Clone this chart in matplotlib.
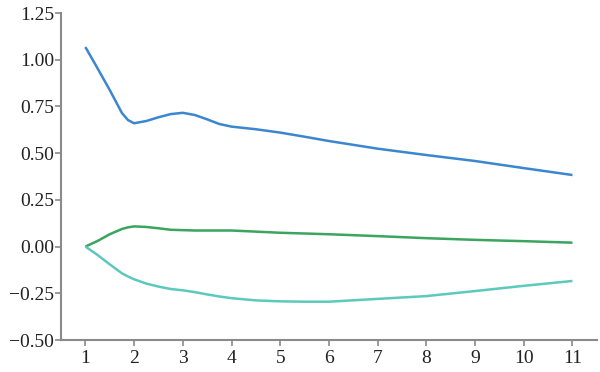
import matplotlib
matplotlib.use('Agg')
import matplotlib.pyplot as plt

plt.rcParams['font.family'] = ['Liberation Serif', 'DejaVu Serif']

# values (finer x steps where the curves bend)
x = [1, 1.25, 1.5, 1.75, 1.875, 2, 2.25, 2.5, 2.75, 3, 3.25, 3.5, 3.75, 4, 4.5, 5, 5.5,
     6, 7, 8, 9, 10, 11]
blue = [1.068, 0.954, 0.838, 0.715, 0.677, 0.660, 0.672, 0.692, 0.709, 0.716, 0.704, 0.681,
        0.656, 0.642, 0.628, 0.610, 0.588, 0.565, 0.524, 0.490, 0.458, 0.420, 0.383]
green = [0.000, 0.030, 0.066, 0.094, 0.103, 0.108, 0.105, 0.098, 0.090, 0.088, 0.086, 0.086,
         0.086, 0.086, 0.080, 0.074, 0.070, 0.066, 0.056, 0.045, 0.036, 0.029, 0.021]
cyan = [0.000, -0.045, -0.095, -0.143, -0.160, -0.175, -0.198, -0.214, -0.227, -0.234,
        -0.244, -0.256, -0.267, -0.276, -0.288, -0.293, -0.295, -0.295, -0.280, -0.265,
        -0.238, -0.210, -0.184]

xticks = list(range(1, 12))
yticks = [-0.50, -0.25, 0.00, 0.25, 0.50, 0.75, 1.00, 1.25]

fig = plt.figure(figsize=(6, 3.72), dpi=100)
ax = fig.add_axes([0.1017, 0.086, 0.893, 0.879])

ax.plot(x, blue, color='#3b87cf', lw=1.8, solid_capstyle='butt', solid_joinstyle='round')
ax.plot(x, green, color='#3ba45f', lw=1.8, solid_capstyle='butt', solid_joinstyle='round')
ax.plot(x, cyan, color='#5cc9bd', lw=1.8, solid_capstyle='butt', solid_joinstyle='round')

ax.set_xlim(0.5, 11.5)
ax.set_ylim(-0.5, 1.25)
ax.set_xticks(xticks)
ax.set_yticks(yticks)
ax.set_yticklabels([('%.2f' % v).replace('-', '\u2212') for v in yticks])

for s in ['top', 'right']:
    ax.spines[s].set_visible(False)
for s in ['left', 'bottom']:
    ax.spines[s].set_color('#8a8a8a')
    ax.spines[s].set_linewidth(1.5)

ax.tick_params(axis='both', direction='out', length=4, width=1.2, color='#8a8a8a',
               labelsize=14, labelcolor='#222222', pad=3)
ax.tick_params(axis='y', pad=1)

fig.savefig('out.png', dpi=100)
